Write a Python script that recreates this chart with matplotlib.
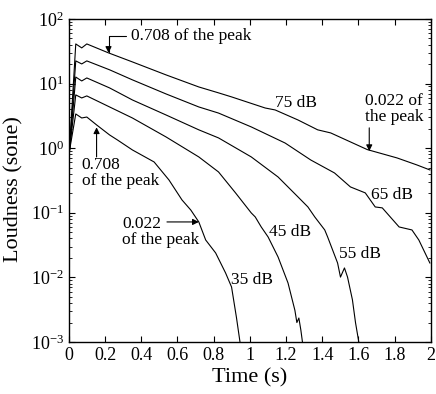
import numpy as np
import matplotlib.pyplot as plt
from matplotlib.ticker import FixedLocator, FuncFormatter, LogLocator

plt.rcParams['font.family'] = ['Liberation Serif', 'DejaVu Serif']
plt.rcParams['mathtext.fontset'] = 'stix'

# Loudness decay curves (time in s, loudness in sone)
t_75 = [0.003, 0.038, 0.071, 0.099, 0.219, 0.351, 0.537, 0.718, 0.827, 0.899,
        1.085, 1.140, 1.266, 1.375, 1.447, 1.649, 1.814, 1.923, 1.995]
l_75 = [0.94, 41.0, 35.6, 41.0, 29.8, 21.6, 13.6, 8.85, 7.17, 6.21,
        4.18, 3.90, 2.73, 1.92, 1.72, 0.95, 0.705, 0.55, 0.46]

t_65 = [0.003, 0.038, 0.071, 0.099, 0.225, 0.351, 0.537, 0.718, 0.827, 1.008,
        1.195, 1.337, 1.468, 1.556, 1.638, 1.693, 1.732, 1.825, 1.896, 1.934, 1.995]
l_65 = [0.9, 22.4, 20.1, 22.4, 16.3, 11.4, 6.90, 4.34, 3.49, 2.13,
        1.20, 0.655, 0.413, 0.251, 0.203, 0.123, 0.119, 0.0603, 0.0542, 0.0379, 0.0167]

t_55 = [0.003, 0.038, 0.071, 0.099, 0.225, 0.351, 0.537, 0.718, 0.827, 1.008,
        1.156, 1.266, 1.321, 1.359, 1.414, 1.430, 1.485, 1.501, 1.523, 1.540,
        1.567, 1.584, 1.605]
l_55 = [0.9, 12.6, 10.96, 12.2, 8.55, 5.57, 3.26, 1.92, 1.44, 0.731,
        0.358, 0.176, 0.123, 0.0861, 0.0542, 0.0422, 0.0167, 0.0101, 0.0140, 0.0101,
        0.0045, 0.0020, 0.0009]

t_45 = [0.003, 0.038, 0.071, 0.099, 0.225, 0.351, 0.537, 0.718, 0.827, 0.921,
        1.008, 1.030, 1.063, 1.101, 1.156, 1.211, 1.249, 1.260, 1.271, 1.282, 1.293]
l_45 = [0.9, 6.67, 5.98, 6.43, 4.34, 2.93, 1.49, 0.731, 0.428, 0.203,
        0.0993, 0.0861, 0.0603, 0.0422, 0.0207, 0.0082, 0.0031, 0.0020, 0.00235, 0.00153, 0.0009]

t_35 = [0.003, 0.038, 0.071, 0.099, 0.153, 0.225, 0.268, 0.351, 0.471, 0.553,
        0.625, 0.674, 0.718, 0.756, 0.811, 0.866, 0.899, 0.926, 0.948]
l_35 = [0.9, 3.38, 2.93, 3.03, 2.29, 1.60, 1.34, 0.938, 0.611, 0.322,
        0.158, 0.110, 0.0721, 0.0379, 0.0239, 0.0117, 0.0071, 0.0024, 0.0009]

curves = [(t_75, l_75), (t_65, l_65), (t_55, l_55), (t_45, l_45), (t_35, l_35)]

level_labels = ['75 dB', '65 dB', '55 dB', '45 dB', '35 dB']
label_t = [1.255, 1.786, 1.611, 1.222, 1.014]
label_l = [5.01, 0.189, 0.0230, 0.0505, 0.00912]

x_ticks = [0, 0.2, 0.4, 0.6, 0.8, 1, 1.2, 1.4, 1.6, 1.8, 2]

fig = plt.figure(figsize=(4.36, 3.94), dpi=100)
ax = fig.add_axes([0.158, 0.132, 0.830, 0.820])

for t, l in curves:
    ax.plot(t, l, color='black', lw=0.8)

for txt, tx, ly in zip(level_labels, label_t, label_l):
    ax.text(tx, ly, txt, fontsize=12.5, ha='center', va='center')

arrow = dict(arrowstyle='-|>', color='black', lw=0.8, mutation_scale=9)

# 0.708 of the peak (75 dB)
ax.annotate('0.708 of the peak', xy=(0.219, 29.8), xytext=(0.345, 54.6),
            fontsize=12.5, ha='left', va='center',
            arrowprops=dict(arrow, connectionstyle='angle,angleA=0,angleB=90,rad=0',
                            shrinkA=2, shrinkB=0))
# 0.022 of the peak (75 dB)
ax.annotate('', xy=(1.660, 0.9), xytext=(1.660, 2.06),
            arrowprops=dict(arrow, shrinkA=0, shrinkB=0))
ax.text(1.797, 4.05, '0.022 of\nthe peak', fontsize=12.5, ha='center', va='center',
        linespacing=1.0)
# 0.708 of the peak (35 dB)
ax.annotate('', xy=(0.153, 2.1), xytext=(0.153, 0.731),
            arrowprops=dict(arrow, shrinkA=0, shrinkB=0))
ax.text(0.071, 0.413, '0.708\nof the peak', fontsize=12.5, ha='left', va='center',
        linespacing=1.0)
# 0.022 of the peak (35 dB)
ax.annotate('', xy=(0.718, 0.0721), xytext=(0.542, 0.0721),
            arrowprops=dict(arrow, shrinkA=0, shrinkB=0))
ax.text(0.296, 0.0505, '0.022\nof the peak', fontsize=12.5, ha='left', va='center',
        linespacing=1.0)

ax.set_yscale('log')
ax.set_xlim(0, 2)
ax.set_ylim(1e-3, 1e2)
ax.xaxis.set_major_locator(FixedLocator(x_ticks))
ax.xaxis.set_major_formatter(FuncFormatter(lambda v, p: '%g' % v))
ax.yaxis.set_major_locator(LogLocator(base=10, numticks=10))
ax.yaxis.set_minor_locator(LogLocator(base=10, subs=np.arange(2, 10), numticks=10))

ax.tick_params(which='both', direction='in', top=True, right=True, labelsize=13)
ax.tick_params(which='major', length=4, width=0.8)
ax.tick_params(which='minor', length=2, width=0.6)
for s in ax.spines.values():
    s.set_linewidth(1.0)

ax.set_xlabel('Time (s)', fontsize=16, labelpad=3)
ax.set_ylabel('Loudness (sone)', fontsize=16, labelpad=2)
ax.yaxis.set_label_coords(-0.125, 0.474)

fig.savefig('out.png', dpi=100)
